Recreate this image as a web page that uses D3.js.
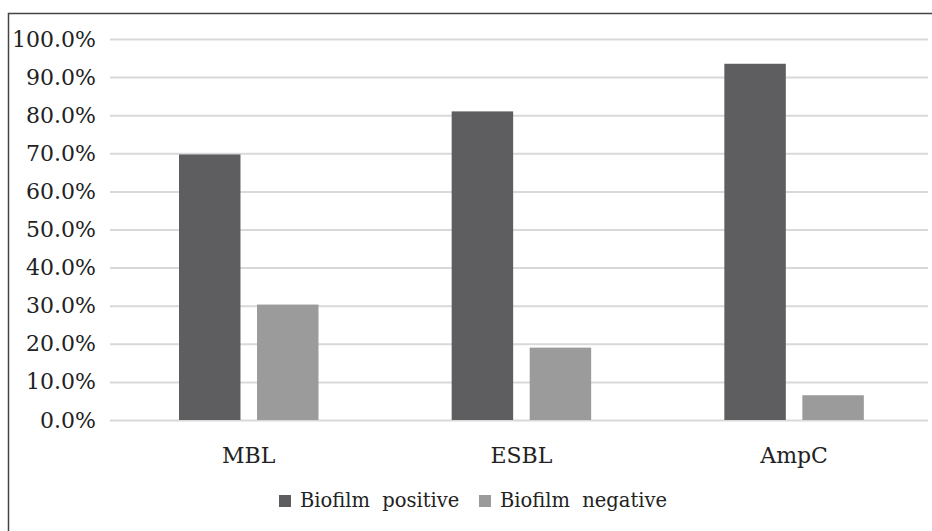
<!DOCTYPE html>
<html>
<head>
<meta charset="utf-8">
<script src="https://cdn.jsdelivr.net/npm/d3@7"></script>
<style>
  html, body { margin: 0; padding: 0; background: #fff; }
  svg { display: block; }
  text { font-family: "DejaVu Serif", "Liberation Serif", serif; fill: #222; }
</style>
</head>
<body>
<svg id="chart" width="932" height="531"></svg>
<script>
// Share of isolates producing each beta-lactamase, by biofilm status
const categories = ["MBL", "ESBL", "AmpC"];
const seriesNames = ["Biofilm positive", "Biofilm negative"];
const biofilmPositive = [0.697, 0.810, 0.935];
const biofilmNegative = [0.303, 0.190, 0.065];
const yTicks = [0, 0.1, 0.2, 0.3, 0.4, 0.5, 0.6, 0.7, 0.8, 0.9, 1.0];
const seriesColors = ["#5e5e60", "#9b9b9c"];

const svg = d3.select("#chart");
const plot = { left: 110, right: 928, top: 39, bottom: 420 };

// Outer frame (only top and left edges fall inside the view)
svg.append("rect")
  .attr("x", 8.5).attr("y", 13.5)
  .attr("width", 1000).attr("height", 600)
  .attr("fill", "none").attr("stroke", "#444").attr("stroke-width", 1.5);

const x0 = d3.scaleBand().domain(categories).range([plot.left, plot.right]);
const x1 = d3.scaleBand().domain(seriesNames).range([69, 208.5]).paddingInner(0.212);
const y = d3.scaleLinear().domain([0, 1]).range([plot.bottom, plot.top]);
const color = d3.scaleOrdinal().domain(seriesNames).range(seriesColors);

// Horizontal gridlines with percentage labels
const yAxis = d3.axisLeft(y)
  .tickValues(yTicks)
  .tickSize(-(plot.right - plot.left))
  .tickPadding(14)
  .tickFormat(d3.format(".1%"));

const gy = svg.append("g")
  .attr("transform", `translate(${plot.left},0)`)
  .call(yAxis);
gy.select(".domain").remove();
gy.selectAll(".tick line").attr("stroke", "#d9d9d9").attr("stroke-width", 2);
gy.selectAll(".tick text")
  .attr("fill", "#222")
  .style("font-family", "DejaVu Serif, serif")
  .style("font-size", "22px");

// Bars
const rows = categories.map((c, i) => ({
  category: c,
  values: [
    { series: seriesNames[0], value: biofilmPositive[i] },
    { series: seriesNames[1], value: biofilmNegative[i] }
  ]
}));

svg.append("g")
  .selectAll("g")
  .data(rows)
  .join("g")
  .attr("transform", d => `translate(${x0(d.category)},0)`)
  .selectAll("rect")
  .data(d => d.values)
  .join("rect")
  .attr("x", d => x1(d.series))
  .attr("width", x1.bandwidth())
  .attr("y", d => y(d.value))
  .attr("height", d => y(0) - y(d.value))
  .attr("fill", d => color(d.series));

// Category labels, centred under each pair of bars
const xAxis = d3.axisBottom(x0).tickSize(0).tickPadding(27);
const gx = svg.append("g")
  .attr("transform", `translate(0,${plot.bottom})`)
  .call(xAxis);
gx.select(".domain").remove();
gx.selectAll(".tick")
  .attr("transform", d => `translate(${x0(d) + 69 + 139.5 / 2},0)`);
gx.selectAll(".tick text")
  .attr("fill", "#222")
  .style("font-family", "DejaVu Serif, serif")
  .style("font-size", "22px");

// Legend
const legend = svg.append("g").attr("transform", "translate(279,507)");
const legendX = [0, 200];
seriesNames.forEach((name, i) => {
  const g = legend.append("g").attr("transform", `translate(${legendX[i]},0)`);
  g.append("rect")
    .attr("x", 0).attr("y", -12)
    .attr("width", 12).attr("height", 12)
    .attr("fill", seriesColors[i]);
  g.append("text")
    .attr("x", 21).attr("y", 0)
    .style("font-size", "19.5px")
    .style("word-spacing", "6px")
    .text(name);
});
</script>
</body>
</html>
